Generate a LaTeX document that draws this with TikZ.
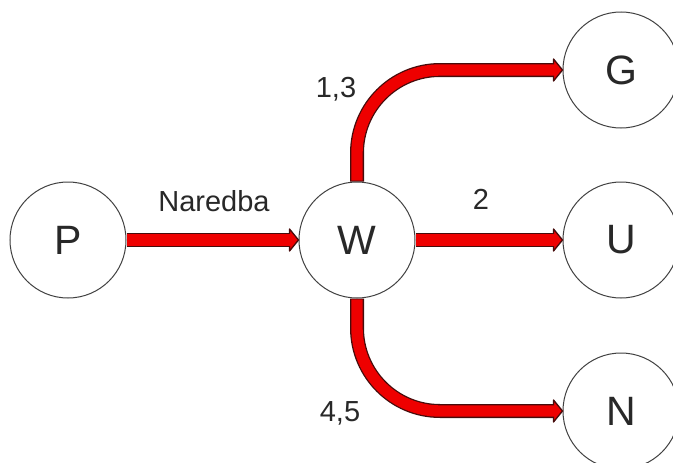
\documentclass[tikz,border=0pt]{standalone}
\usepackage{fontspec}
\setmainfont{Liberation Sans}
\definecolor{rim}{RGB}{70,12,12}
\definecolor{flow}{RGB}{238,0,0}
\definecolor{ink}{RGB}{40,40,40}
\begin{document}
\begin{tikzpicture}[x=1pt,y=-1pt,
  state/.style={circle,draw=black!75,line width=1pt,fill=white,
    minimum size=116pt,inner sep=0pt,text=ink,
    font=\fontsize{41}{41}\selectfont},
  lbl/.style={inner sep=0pt,text=ink,font=\fontsize{29}{29}\selectfont},
  shaftout/.style={line width=14pt,draw=rim,shorten >=8pt},
  shaftin/.style={line width=11.4pt,draw=flow,shorten >=6.5pt},
  head/.style={fill=flow,draw=rim,line width=1.3pt,line join=round},
  curved/.style={rounded corners=83pt}]
\useasboundingbox (0,0) rectangle (673,463);

% states
\node[state] (P) at (68,240) {P};
\node[state] (W) at (357,240) {W};
\node[state] (G) at (621,70) {G};
\node[state] (U) at (621,240) {U};
\node[state] (N) at (621,411) {N};

% outer rims of the flows
\draw[shaftout] (P.east) -- (W.west);
\draw[shaftout] (W.east) -- (U.west);
\draw[shaftout,curved] (W.north) |- (G.west);
\draw[shaftout,curved] (W.south) |- (N.west);

% arrow heads
\foreach \t in {W,U,G,N}
  \draw[head] (\t.west) -- ([xshift=-9pt,yshift=11pt]\t.west)
    -- ([xshift=-9pt,yshift=-11pt]\t.west) -- cycle;

% red cores of the flows
\draw[shaftin] ([xshift=0.8pt]P.east) -- (W.west);
\draw[shaftin] ([xshift=0.8pt]W.east) -- (U.west);
\draw[shaftin,curved] ([yshift=0.8pt]W.north) |- (G.west);
\draw[shaftin,curved] ([yshift=-0.8pt]W.south) |- (N.west);

% labels
\node[lbl] (lnar) at (214,201) {Naredba};
\node[lbl] (l13) at (336,89) {1,3};
\node[lbl] (l2) at (481,199) {2};
\node[lbl] (l45) at (340,413) {4,5};
\end{tikzpicture}
\end{document}
